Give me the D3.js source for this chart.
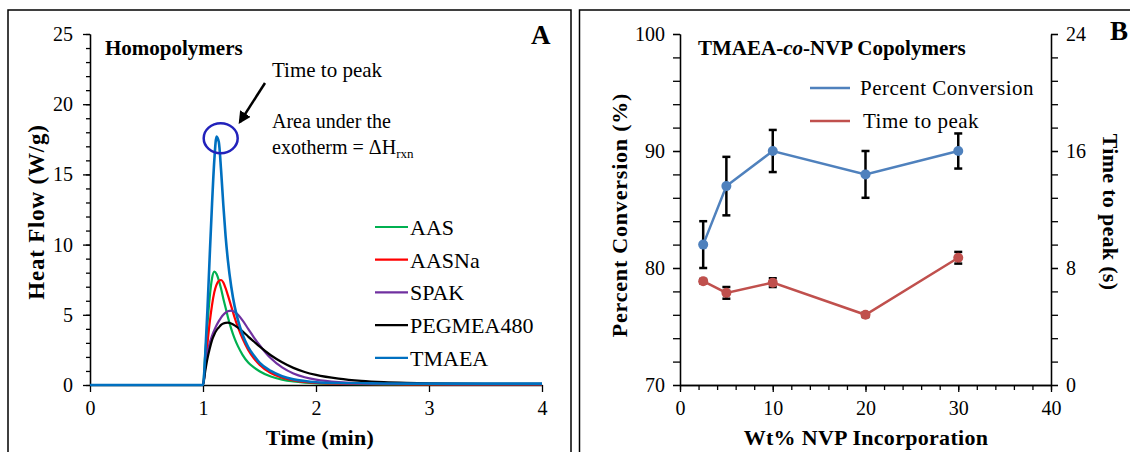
<!DOCTYPE html>
<html>
<head>
<meta charset="utf-8">
<script src="https://cdn.jsdelivr.net/npm/d3@7"></script>
<style>
  html, body { margin: 0; padding: 0; background: #fff; }
  svg { display: block; }
  text { font-family: "Liberation Serif", "Times New Roman", serif; fill: #000; }
</style>
</head>
<body>
<svg id="chart" width="1130" height="452"></svg>
<script>
// ---------- Panel A data ----------
const times = [0, 1.0, 1.02, 1.04, 1.06, 1.08, 1.1, 1.12, 1.14, 1.16, 1.18, 1.2, 1.22, 1.25, 1.28, 1.31, 1.35, 1.4, 1.45, 1.5, 1.6, 1.7, 1.8, 1.9, 2.0, 2.2, 2.4, 2.6, 2.8, 3.0, 3.5, 4.0];
const aas    = [0,0,2.2,4.4,6.3,7.6,8.07,7.9,7.45,6.85,6.15,5.5,4.85,4.0,3.3,2.75,2.15,1.6,1.25,0.98,0.6,0.38,0.25,0.17,0.12,0.08,0.06,0.05,0.05,0.05,0.05,0.05];
const aasna  = [0,0,1.4,3.0,4.5,5.7,6.6,7.15,7.42,7.48,7.3,6.9,6.4,5.6,4.8,4.1,3.3,2.5,1.9,1.45,0.85,0.52,0.33,0.22,0.15,0.09,0.07,0.06,0.05,0.05,0.04,0.04];
const spak   = [0,0,1.3,2.3,3.0,3.5,3.9,4.25,4.55,4.8,5.0,5.15,5.25,5.3,5.2,5.0,4.6,4.0,3.4,2.85,1.9,1.25,0.82,0.55,0.38,0.2,0.13,0.1,0.08,0.07,0.06,0.06];
const pegmea = [0,0,1.0,1.9,2.6,3.2,3.6,3.9,4.1,4.28,4.38,4.43,4.44,4.38,4.25,4.08,3.82,3.45,3.1,2.75,2.12,1.62,1.22,0.93,0.72,0.45,0.29,0.2,0.15,0.12,0.09,0.08];
const tmaea  = [0,0,2.2,5.5,9.3,12.9,16.0,17.7,17.3,15.3,12.8,10.6,8.9,7.0,5.6,4.6,3.6,2.7,2.1,1.6,1.0,0.62,0.4,0.28,0.2,0.14,0.12,0.11,0.1,0.1,0.1,0.1];
const seriesNames = ["AAS", "AASNa", "SPAK", "PEGMEA480", "TMAEA"];
const seriesValues = [aas, aasna, spak, pegmea, tmaea];
const seriesColors = ["#00b050", "#ff0000", "#7030a0", "#000000", "#0070c0"];
const aTicksX = [0, 1, 2, 3, 4];
const aTicksY = [0, 5, 10, 15, 20, 25];
const aMinorY = d3.range(0, 26, 1);
const peakTime = 1.13, peakValue = 17.75;

// ---------- Panel B data ----------
const nvp = [2.5, 5, 10, 20, 30];
const conversion = [82, 87, 90, 88, 90];
const conversionErr = [2, 2.5, 1.8, 2, 1.5];
const timeToPeak = [7.1, 6.3, 7.0, 4.8, 8.7];
const timeErr = [0.15, 0.4, 0.3, 0.15, 0.4];
const bTicksX = [0, 10, 20, 30, 40];
const bMinorX = d3.range(0, 41, 2);
const bTicksYL = [70, 80, 90, 100];
const bMinorYL = d3.range(70, 101, 2);
const bTicksYR = [0, 8, 16, 24];
const bMinorYR = d3.range(0, 25, 1.6);
const bLegend = ["Percent Conversion", "Time to peak"];
const bColors = ["#4f81bd", "#c0504d"];

const svg = d3.select("#chart");

// panel borders
svg.append("rect").attr("x", 8).attr("y", 10).attr("width", 563).attr("height", 460)
  .attr("fill", "none").attr("stroke", "#000").attr("stroke-width", 1.5);
svg.append("rect").attr("x", 579.5).attr("y", 10).attr("width", 600).attr("height", 460)
  .attr("fill", "none").attr("stroke", "#000").attr("stroke-width", 1.5);

function styleAxis(g) {
  g.selectAll("path.domain").attr("stroke", "#000").attr("stroke-width", 1.3);
  g.selectAll(".tick line").attr("stroke", "#000").attr("stroke-width", 1.3);
  g.selectAll(".tick text").style("font-family", '"Liberation Serif", "Times New Roman", serif')
    .style("font-size", "20px").attr("fill", "#000");
}

// ================= Panel A =================
const xA = d3.scaleLinear().domain([0, 4]).range([90, 542]);
const yA = d3.scaleLinear().domain([0, 25]).range([385, 34]);

svg.append("g").attr("transform", "translate(90,0)")
  .call(d3.axisLeft(yA).tickValues(aMinorY).tickSize(4).tickFormat("").tickSizeOuter(0))
  .call(styleAxis);
svg.append("g").attr("transform", "translate(90,0)")
  .call(d3.axisLeft(yA).tickValues(aTicksY).tickSize(7).tickPadding(10).tickSizeOuter(0))
  .call(styleAxis);
svg.append("g").attr("transform", "translate(0,385)")
  .call(d3.axisBottom(xA).tickValues(aTicksX).tickSize(7).tickPadding(9).tickFormat(d3.format("d")).tickSizeOuter(0))
  .call(styleAxis);

const lineA = d3.line().x((d, i) => xA(times[i])).y(d => yA(d)).curve(d3.curveMonotoneX);
seriesValues.forEach((vals, k) => {
  svg.append("path").datum(vals).attr("d", lineA)
    .attr("fill", "none").attr("stroke", seriesColors[k])
    .attr("stroke-width", k === 4 ? 2.6 : 2.2).attr("stroke-linejoin", "round");
});

// legend A
seriesNames.forEach((name, k) => {
  const yy = 227 + k * 32.7;
  svg.append("line").attr("x1", 375).attr("x2", 408).attr("y1", yy).attr("y2", yy)
    .attr("stroke", seriesColors[k]).attr("stroke-width", 2.2);
  svg.append("text").attr("x", 410).attr("y", yy + 8).style("font-size", "22px").text(name);
});

// annotation
svg.append("ellipse").attr("cx", xA(peakTime) + 3).attr("cy", yA(peakValue) + 2.5)
  .attr("rx", 17).attr("ry", 15).attr("fill", "none").attr("stroke", "#2222bb").attr("stroke-width", 2.5);
svg.append("defs").append("marker").attr("id", "arrow").attr("viewBox", "0 0 10 10")
  .attr("refX", 8).attr("refY", 5).attr("markerWidth", 5).attr("markerHeight", 5)
  .attr("orient", "auto").append("path").attr("d", "M0,0 L10,5 L0,10 z").attr("fill", "#000");
svg.append("line").attr("x1", 265).attr("y1", 83).attr("x2", 240).attr("y2", 122)
  .attr("stroke", "#000").attr("stroke-width", 2.5).attr("marker-end", "url(#arrow)");
svg.append("text").attr("x", 272).attr("y", 77).style("font-size", "21px").text("Time to peak");
svg.append("text").attr("x", 272).attr("y", 128).style("font-size", "20px").text("Area under the");
const ex = svg.append("text").attr("x", 272).attr("y", 154).style("font-size", "20px");
ex.append("tspan").text("exotherm = ΔH");
ex.append("tspan").attr("dy", 4).style("font-size", "13px").text("rxn");

svg.append("text").attr("x", 105).attr("y", 55).style("font-size", "21px").style("font-weight", "bold").text("Homopolymers");
svg.append("text").attr("x", 531).attr("y", 44).style("font-size", "27px").style("font-weight", "bold").text("A");
svg.append("text").attr("transform", "translate(44,212) rotate(-90)").attr("text-anchor", "middle")
  .style("font-size", "23px").style("font-weight", "bold").style("letter-spacing", "0.8px").text("Heat Flow (W/g)");
svg.append("text").attr("x", 320).attr("y", 445).attr("text-anchor", "middle")
  .style("font-size", "22px").style("font-weight", "bold").style("letter-spacing", "0.3px").text("Time (min)");

// ================= Panel B =================
const xB = d3.scaleLinear().domain([0, 40]).range([680, 1051]);
const yBL = d3.scaleLinear().domain([70, 100]).range([385, 34]);
const yBR = d3.scaleLinear().domain([0, 24]).range([385, 34]);

svg.append("g").attr("transform", "translate(680,0)")
  .call(d3.axisLeft(yBL).tickValues(bMinorYL).tickSize(7).tickFormat("").tickSizeOuter(0))
  .call(styleAxis);
svg.append("g").attr("transform", "translate(680,0)")
  .call(d3.axisLeft(yBL).tickValues(bTicksYL).tickSize(7).tickPadding(8).tickSizeOuter(0))
  .call(styleAxis);
svg.append("g").attr("transform", "translate(1051,0)")
  .call(d3.axisRight(yBR).tickValues(bMinorYR).tickSize(7).tickFormat("").tickSizeOuter(0))
  .call(styleAxis);
svg.append("g").attr("transform", "translate(1051,0)")
  .call(d3.axisRight(yBR).tickValues(bTicksYR).tickSize(7).tickPadding(8).tickSizeOuter(0))
  .call(styleAxis);
svg.append("g").attr("transform", "translate(0,385)")
  .call(d3.axisBottom(xB).tickValues(bMinorX).tickSize(5).tickFormat("").tickSizeOuter(0))
  .call(styleAxis);
svg.append("g").attr("transform", "translate(0,385)")
  .call(d3.axisBottom(xB).tickValues(bTicksX).tickSize(7).tickPadding(9).tickSizeOuter(0))
  .call(styleAxis);

function errorBars(vals, errs, yS) {
  const g = svg.append("g").attr("stroke", "#000").attr("stroke-width", 2.5);
  vals.forEach((v, i) => {
    const x = xB(nvp[i]);
    g.append("line").attr("x1", x).attr("x2", x).attr("y1", yS(v - errs[i])).attr("y2", yS(v + errs[i]));
    g.append("line").attr("x1", x - 4).attr("x2", x + 4).attr("y1", yS(v - errs[i])).attr("y2", yS(v - errs[i]));
    g.append("line").attr("x1", x - 4).attr("x2", x + 4).attr("y1", yS(v + errs[i])).attr("y2", yS(v + errs[i]));
  });
}
errorBars(conversion, conversionErr, yBL);
errorBars(timeToPeak, timeErr, yBR);

[[conversion, yBL, bColors[0]], [timeToPeak, yBR, bColors[1]]].forEach(([vals, yS, c]) => {
  svg.append("path").datum(vals)
    .attr("d", d3.line().x((d, i) => xB(nvp[i])).y(d => yS(d)))
    .attr("fill", "none").attr("stroke", c).attr("stroke-width", 2.5);
  svg.append("g").selectAll("circle").data(vals).join("circle")
    .attr("cx", (d, i) => xB(nvp[i])).attr("cy", d => yS(d)).attr("r", 5).attr("fill", c);
});

// legend B
bLegend.forEach((name, k) => {
  const yy = 88 + k * 33;
  svg.append("line").attr("x1", 810).attr("x2", 850).attr("y1", yy).attr("y2", yy)
    .attr("stroke", bColors[k]).attr("stroke-width", 2.5);
  svg.append("text").attr("x", k === 0 ? 860 : 863).attr("y", yy + 7).style("font-size", "21px")
    .style("letter-spacing", "0.5px").text(name);
});

const tB = svg.append("text").attr("x", 698).attr("y", 55).style("font-size", "21px").style("font-weight", "bold");
tB.append("tspan").text("TMAEA-");
tB.append("tspan").style("font-style", "italic").text("co");
tB.append("tspan").text("-NVP Copolymers");
svg.append("text").attr("x", 1110).attr("y", 40).style("font-size", "27px").style("font-weight", "bold").text("B");
svg.append("text").attr("transform", "translate(627,215) rotate(-90)").attr("text-anchor", "middle")
  .style("font-size", "22px").style("font-weight", "bold").style("letter-spacing", "0.8px").text("Percent Conversion (%)");
svg.append("text").attr("transform", "translate(1103,212) rotate(90)").attr("text-anchor", "middle")
  .style("font-size", "22px").style("font-weight", "bold").style("letter-spacing", "0.3px").text("Time to peak (s)");
svg.append("text").attr("x", 866).attr("y", 445).attr("text-anchor", "middle")
  .style("font-size", "22px").style("font-weight", "bold").style("letter-spacing", "0.3px").text("Wt% NVP Incorporation");
</script>
</body>
</html>
